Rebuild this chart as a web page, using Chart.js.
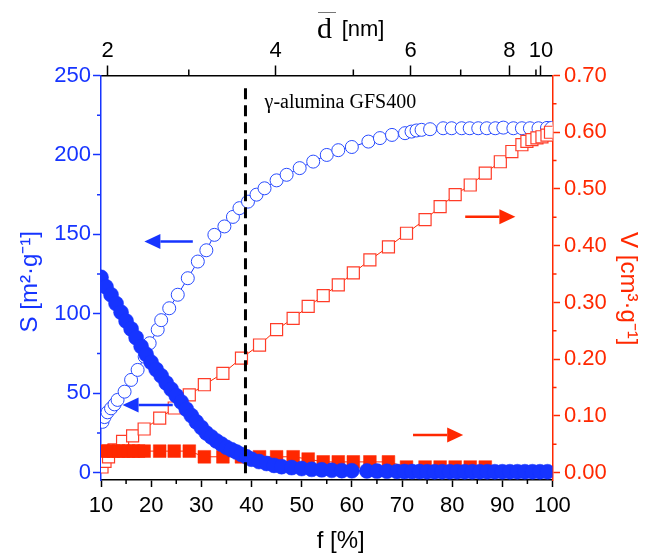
<!DOCTYPE html>
<html>
<head>
<meta charset="utf-8">
<script src="https://cdn.jsdelivr.net/npm/chart.js@4.4.1/dist/chart.umd.min.js"></script>
<style>
  html, body { margin: 0; padding: 0; background: #fff; }
  #wrap { width: 646px; height: 557px; }
</style>
</head>
<body>
<div id="wrap"><canvas id="poreChart" width="646" height="557"></canvas></div>
<script>
// cumulative surface area S (open circles, left axis)
const fSurfCum = [10.3, 10.7, 11.3, 12.0, 12.7, 13.3, 14.7, 16.0, 17.3, 18.7, 19.7, 21.3, 22.0, 23.6, 25.3, 27.3,
  29.3, 31.0, 32.6, 34.6, 36.3, 37.6, 39.3, 41.0, 42.6, 45.0, 47.0, 49.6, 52.3, 55.0, 57.3, 60.0, 63.3, 65.6,
  68.0, 70.6, 71.9, 72.9, 73.9, 75.6, 78.2, 79.9, 81.9, 83.5, 85.2, 86.9, 88.6, 90.2, 92.2, 93.9, 95.5, 97.2,
  98.9, 99.8];
const sSurfCum = [32, 35, 38, 40.5, 43, 45.8, 51, 58.4, 64.7, 73, 81.5, 90, 96, 103.5, 112, 122.4,
  132.9, 140, 149.7, 155, 161, 166.5, 170.6, 175, 179, 184, 187.5, 191.7, 195.8, 200, 203, 205, 208.4, 210.6,
  212.6, 213.7, 214.7, 215.4, 215.8, 216.2, 216.8, 216.8, 216.8, 216.8, 216.8, 216.8, 216.8, 217.2, 216.8, 216.8, 216.8, 216.8,
  217.0, 217.0];

// surface area still to be filled (filled circles, left axis)
const fSurfRem = [10, 11, 12, 13, 14, 15, 16, 17, 18, 19, 20, 21, 22, 23, 24, 25, 26, 27, 28, 29, 30,
  31, 32, 33, 34, 35, 36, 37, 38, 39, 40, 41.5, 43, 44.5, 46, 48, 50, 52, 54, 56, 58, 60, 63, 65, 67, 69,
  70.5, 72, 73.5, 75, 76.5, 78, 79.5, 81, 82.5, 84, 85.5, 87, 88.5, 90, 91.5, 93, 94.5, 96, 97.5, 99];
const sSurfRem = [123, 117, 112, 106.5, 101, 95.5, 90.5, 85, 79.5, 74.5, 69.5, 65, 61, 56.5, 52.5, 48.5, 44.5, 40, 36, 32, 28.5,
  25, 22.5, 20, 18, 16, 14.5, 13, 11.5, 10, 8.5, 7, 5.8, 4.6, 3.8, 3.2, 2.6, 2.1, 1.8, 1.5, 1.3, 1.2, 1.1, 1.0, 0.9, 0.8,
  0.7, 0.7, 0.7, 0.6, 0.6, 0.6, 0.6, 0.6, 0.6, 0.6, 0.6, 0.6, 0.6, 0.6, 0.6, 0.6, 0.6, 0.6, 0.6, 0.6];

// cumulative pore volume V (open squares, right axis)
const fVolCum = [10.2, 10.8, 11.5, 12.6, 14.3, 16.3, 18.6, 21.7, 24.6, 27.6, 30.6, 34.3, 38.0, 41.6, 45.0, 48.3,
  51.3, 54.3, 57.3, 60.3, 63.6, 67.3, 70.9, 74.6, 77.6, 80.6, 83.6, 86.6, 89.6, 91.9, 93.9, 94.9, 95.9, 96.9,
  97.9, 98.9, 99.6];
const vVolCum = [0.010, 0.020, 0.028, 0.040, 0.055, 0.065, 0.077, 0.096, 0.114, 0.137, 0.155, 0.175, 0.202, 0.225, 0.252, 0.272,
  0.293, 0.312, 0.331, 0.352, 0.375, 0.398, 0.422, 0.446, 0.469, 0.490, 0.507, 0.528, 0.548, 0.566, 0.578, 0.584, 0.587, 0.590,
  0.592, 0.595, 0.600];

// pore volume still to be filled (filled squares, right axis)
const fVolRem = [10.5, 11.5, 12.5, 13.5, 14.5, 15.5, 16.5, 17.5, 18.6, 21.7, 24.6, 27.6, 30.6, 34.3, 38.0, 41.6,
  45.0, 48.3, 51.3, 54.3, 57.3, 60.3, 63.6, 67.3, 70.9, 74.6, 77.6, 80.6, 83.6, 86.6];
const vVolRem = [0.038, 0.038, 0.038, 0.038, 0.038, 0.038, 0.038, 0.038, 0.038, 0.038, 0.038, 0.038, 0.028, 0.028, 0.028, 0.028,
  0.028, 0.028, 0.024, 0.019, 0.019, 0.019, 0.019, 0.019, 0.010, 0.010, 0.010, 0.010, 0.010, 0.010];

// axis ticks
const fTicks = [10, 20, 30, 40, 50, 60, 70, 80, 90, 100];
const fMinor = [15, 25, 35, 45, 55, 65, 75, 85, 95];
const sTicks = [0, 50, 100, 150, 200, 250];
const sMinor = [25, 75, 125, 175, 225];
const vTicks = [0, 0.1, 0.2, 0.3, 0.4, 0.5, 0.6, 0.7];
const vMinor = [0.05, 0.15, 0.25, 0.35, 0.45, 0.55, 0.65];
// pore diameter d on the top axis and where it falls on f
const dTicks = [2, 4, 6, 8, 10];
const dTickF = [11.3, 44.8, 71.7, 91.4, 97.7];
const dMinorF = [27.5, 60.3, 81.7, 96.7];

// direction arrows: axis, tail f, head f, level
const arrowAxis = ["y", "y", "y1", "y1"];
const arrowFrom = [28.3, 24.3, 82.6, 72.2];
const arrowTo = [18.65, 14.3, 92.6, 82.2];
const arrowLevel = [145.5, 42.6, 0.451, 0.0665];

const markerF = 38.8;        // dashed line
const markerTop = 242;
const sampleLabel = "γ-alumina GFS400";
const sampleLabelAt = [42.6, 229.7];

const BLUE = "rgb(22, 52, 255)";
const RED = "rgb(255, 40, 0)";
const SANS = "'Liberation Sans', Arial, sans-serif";
const SERIF = "'Liberation Serif', 'Times New Roman', serif";

Chart.defaults.font.family = SANS;

const toPoints = (xs, ys) => xs.map((x, i) => ({ x, y: ys[i] }));

const minorTicks = {
    id: "minorTicks",
    afterDraw(chart) {
        const { ctx, chartArea: a, scales } = chart;
        ctx.save();
        ctx.lineWidth = 1.5;
        ctx.strokeStyle = "#000";
        ctx.beginPath();
        fMinor.forEach(v => {
            const x = scales.x.getPixelForValue(v);
            ctx.moveTo(x, a.bottom); ctx.lineTo(x, a.bottom + 4);
        });
        dMinorF.forEach(v => {
            const x = scales.x2.getPixelForValue(v);
            ctx.moveTo(x, a.top); ctx.lineTo(x, a.top - 6);
        });
        ctx.stroke();
        ctx.strokeStyle = BLUE;
        ctx.beginPath();
        sMinor.forEach(v => {
            const y = scales.y.getPixelForValue(v);
            ctx.moveTo(a.left, y); ctx.lineTo(a.left - 4, y);
        });
        ctx.stroke();
        ctx.strokeStyle = RED;
        ctx.beginPath();
        vMinor.forEach(v => {
            const y = scales.y1.getPixelForValue(v);
            ctx.moveTo(a.right, y); ctx.lineTo(a.right + 4, y);
        });
        ctx.stroke();
        ctx.restore();
    }
};

const annotations = {
    id: "annotations",
    afterDatasetsDraw(chart) {
        const { ctx, chartArea: a, scales } = chart;
        ctx.save();

        // dashed line
        const xm = scales.x.getPixelForValue(markerF);
        ctx.strokeStyle = "#000";
        ctx.lineWidth = 3;
        ctx.setLineDash([11, 6]);
        ctx.beginPath();
        ctx.moveTo(xm, scales.y.getPixelForValue(markerTop));
        ctx.lineTo(xm, a.bottom);
        ctx.stroke();
        ctx.setLineDash([]);

        ctx.fillStyle = "#000";
        ctx.font = "20px " + SERIF;
        ctx.textBaseline = "alphabetic";
        ctx.fillText(sampleLabel, scales.x.getPixelForValue(sampleLabelAt[0]), scales.y.getPixelForValue(sampleLabelAt[1]));

        // arrows
        arrowAxis.forEach((axis, i) => {
            const color = axis === "y" ? BLUE : RED;
            const x0 = scales.x.getPixelForValue(arrowFrom[i]);
            const x1 = scales.x.getPixelForValue(arrowTo[i]);
            const y = scales[axis].getPixelForValue(arrowLevel[i]);
            const dir = Math.sign(x1 - x0);
            const head = 16, half = 7.5;
            ctx.strokeStyle = color;
            ctx.fillStyle = color;
            ctx.lineWidth = 2.5;
            ctx.beginPath();
            ctx.moveTo(x0, y);
            ctx.lineTo(x1 - dir * head, y);
            ctx.stroke();
            ctx.beginPath();
            ctx.moveTo(x1, y);
            ctx.lineTo(x1 - dir * head, y - half);
            ctx.lineTo(x1 - dir * head, y + half);
            ctx.closePath();
            ctx.fill();
        });
        ctx.restore();
    },
    afterDraw(chart) {
        const { ctx, chartArea: a } = chart;
        const midY = (a.top + a.bottom) / 2;
        ctx.save();
        ctx.textBaseline = "alphabetic";

        // top axis title: mean pore diameter d [nm]
        ctx.fillStyle = "#000";
        const xd = a.left + 216;
        ctx.font = "30px " + SERIF;
        ctx.fillText("d", xd, 38);
        const w = ctx.measureText("d").width;
        ctx.strokeStyle = "#777";
        ctx.lineWidth = 1;
        ctx.beginPath();
        ctx.moveTo(xd + 1, 12.5);
        ctx.lineTo(xd + w + 4, 12.5);
        ctx.stroke();
        ctx.font = "22px " + SANS;
        ctx.fillText("[nm]", a.left + 240.7, 35.5);

        // bottom axis title
        ctx.textAlign = "center";
        ctx.textBaseline = "middle";
        ctx.font = "24px " + SANS;
        ctx.fillText("f [%]", (a.left + a.right) / 2 + 14, 541);

        // left axis title
        ctx.fillStyle = BLUE;
        ctx.save();
        ctx.translate(a.left - 71, midY + 4);
        ctx.rotate(-Math.PI / 2);
        ctx.fillText("S [m²·g⁻¹]", 0, 0);
        ctx.restore();

        // right axis title
        ctx.fillStyle = RED;
        ctx.save();
        ctx.translate(a.right + 75, midY + 11);
        ctx.rotate(Math.PI / 2);
        ctx.fillText("V [cm³·g⁻¹]", 0, 0);
        ctx.restore();

        ctx.restore();
    }
};

const ctx = document.getElementById("poreChart").getContext("2d");
new Chart(ctx, {
    type: "line",
    data: {
        datasets: [
            {
                label: "S removed",
                data: toPoints(fSurfRem, sSurfRem),
                yAxisID: "y",
                order: 0,
                borderColor: BLUE,
                borderWidth: 1,
                pointStyle: "circle",
                pointRadius: 7.5,
                pointBackgroundColor: BLUE,
                pointBorderColor: BLUE,
                pointBorderWidth: 0.5,
            },
            {
                label: "V removed",
                data: toPoints(fVolRem, vVolRem),
                yAxisID: "y1",
                order: 1,
                borderColor: RED,
                borderWidth: 1,
                pointStyle: "rect",
                pointRadius: 9,
                pointBackgroundColor: RED,
                pointBorderColor: RED,
                pointBorderWidth: 0.5,
            },
            {
                label: "V cumulative",
                data: toPoints(fVolCum, vVolCum),
                yAxisID: "y1",
                order: 2,
                borderColor: RED,
                borderWidth: 1,
                pointStyle: "rect",
                pointRadius: 8.5,
                pointBackgroundColor: "#fff",
                pointBorderColor: "rgb(255, 60, 40)",
                pointBorderWidth: 1.2,
            },
            {
                label: "S cumulative",
                data: toPoints(fSurfCum, sSurfCum),
                yAxisID: "y",
                order: 3,
                borderColor: BLUE,
                borderWidth: 1,
                pointStyle: "circle",
                pointRadius: 6.5,
                pointBackgroundColor: "#fff",
                pointBorderColor: "rgb(40, 75, 255)",
                pointBorderWidth: 1,
            },
        ],
    },
    options: {
        responsive: false,
        animation: false,
        devicePixelRatio: 1,
        layout: { padding: 0 },
        plugins: {
            legend: { display: false },
            tooltip: { enabled: false },
        },
        scales: {
            x: {
                type: "linear",
                position: "bottom",
                min: 10,
                max: 100,
                afterBuildTicks: s => { s.ticks = fTicks.map(value => ({ value })); },
                afterFit: s => { s.height = 77; },
                border: { color: "#000", width: 1.5 },
                grid: { drawOnChartArea: false, tickLength: 7, tickWidth: 1.5, tickColor: "#000" },
                ticks: { color: "#000", font: { size: 22 }, padding: 6, maxRotation: 0, autoSkip: false },
            },
            x2: {
                type: "linear",
                axis: "x",
                position: "top",
                min: 10,
                max: 100,
                afterBuildTicks: s => { s.ticks = dTickF.map(value => ({ value })); },
                afterFit: s => { s.height = 75.5; },
                border: { color: "#000", width: 1.5 },
                grid: { drawOnChartArea: false, tickLength: 10, tickWidth: 1.5, tickColor: "#000" },
                ticks: {
                    color: "#000", font: { size: 22 }, padding: 1, maxRotation: 0, autoSkip: false,
                    callback: (value, index) => String(dTicks[index]),
                },
            },
            y: {
                type: "linear",
                position: "left",
                min: -4.6,
                max: 250,
                afterBuildTicks: s => { s.ticks = sTicks.map(value => ({ value })); },
                afterFit: s => { s.width = 101; },
                border: { color: BLUE, width: 1.5 },
                grid: { drawOnChartArea: false, tickLength: 8, tickWidth: 1.5, tickColor: BLUE },
                ticks: { color: BLUE, font: { size: 22 }, padding: 2 },
            },
            y1: {
                type: "linear",
                position: "right",
                min: -0.0129,
                max: 0.70,
                afterBuildTicks: s => { s.ticks = vTicks.map(value => ({ value })); },
                afterFit: s => { s.width = 93.5; },
                border: { color: RED, width: 1.5 },
                grid: { drawOnChartArea: false, tickLength: 7.5, tickWidth: 1.5, tickColor: RED },
                ticks: { color: RED, font: { size: 22 }, padding: 4, callback: v => v.toFixed(2) },
            },
        },
    },
    plugins: [minorTicks, annotations],
});
</script>
</body>
</html>
